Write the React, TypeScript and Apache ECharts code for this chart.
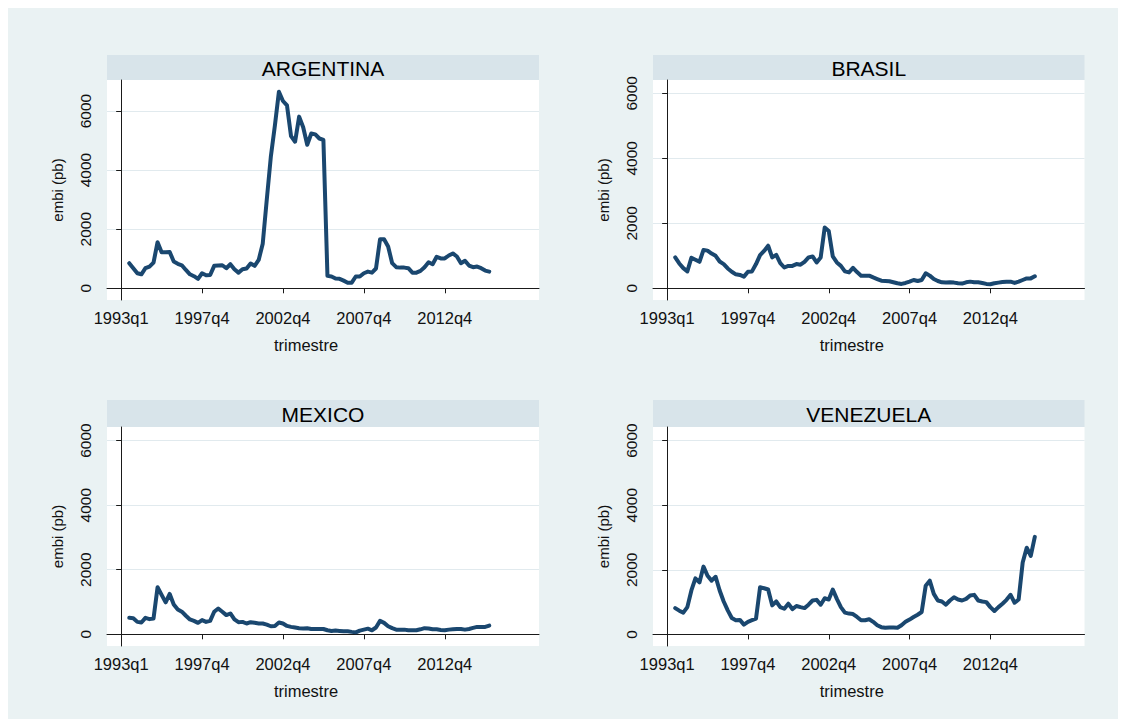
import React, { useEffect, useRef } from "react";
import * as echarts from "echarts";

// Quarter index 0 = first labelled tick; data start at index 2
const START_Q = 2;
const X_TICK_POS = [0, 20, 40, 60, 80];
const X_TICK_LABELS = ["1993q1", "1997q4", "2002q4", "2007q4", "2012q4"];
const Y_TICKS = [0, 2000, 4000, 6000];
const COUNTRIES = ["ARGENTINA", "BRASIL", "MEXICO", "VENEZUELA"];
const X_TITLE = "trimestre";
const Y_TITLE = "embi (pb)";

const ARGENTINA = [
  850, 680, 510, 475, 680, 735, 870, 1560, 1220, 1220,
  1230, 905, 830, 780, 620, 475, 410, 320, 510, 440,
  450, 760, 770, 780, 680, 815, 645, 530, 645, 670,
  840, 760, 960, 1510, 3000, 4450, 5500, 6650, 6340, 6190,
  5150, 4960, 5810, 5450, 4860, 5240, 5210, 5070, 5020, 420,
  400, 330, 320, 260, 190, 190, 400, 400, 510, 565,
  530, 670, 1660, 1660, 1415, 850, 715, 700, 700, 680,
  530, 530, 590, 715, 880, 815, 1065, 1010, 1010, 1110,
  1180, 1075, 850, 930, 770, 715, 735, 680, 600, 565,
];
const BRASIL = [
  950, 765, 620, 520, 940, 880, 815, 1180, 1160, 1070,
  1000, 825, 745, 610, 510, 430, 410, 360, 510, 520,
  745, 1020, 1150, 1310, 950, 1030, 775, 640, 690, 690,
  745, 725, 815, 950, 980, 795, 950, 1870, 1765, 980,
  795, 690, 520, 490, 630, 500, 390, 390, 390, 335,
  285, 235, 225, 215, 185, 155, 135, 165, 205, 255,
  225, 255, 460, 390, 285, 225, 185, 175, 185, 175,
  155, 145, 185, 205, 185, 185, 165, 135, 125, 155,
  175, 195, 205, 205, 165, 205, 255, 305, 305, 370,
];
const MEXICO = [
  510, 500, 385, 365, 510, 470, 490, 1460, 1220, 990,
  1250, 925, 770, 700, 575, 460, 415, 355, 440, 385,
  415, 700, 800, 700, 595, 645, 460, 375, 385, 335,
  375, 355, 335, 335, 300, 250, 260, 365, 335, 260,
  230, 210, 190, 180, 185, 165, 165, 165, 165, 125,
  105, 115, 105, 95, 95, 75, 60, 115, 145, 175,
  125, 210, 415, 355, 250, 190, 145, 145, 145, 125,
  125, 125, 155, 190, 180, 155, 155, 135, 125, 145,
  155, 165, 165, 145, 165, 200, 230, 230, 230, 270,
];
const VENEZUELA = [
  815, 735, 675, 845, 1360, 1735, 1610, 2100, 1815, 1665,
  1785, 1360, 1020, 745, 510, 440, 450, 305, 390, 440,
  490, 1460, 1430, 1390, 900, 1020, 845, 795, 950, 785,
  880, 845, 815, 920, 1050, 1070, 920, 1120, 1080, 1390,
  1100, 845, 675, 645, 630, 540, 440, 440, 470, 390,
  285, 225, 205, 215, 215, 205, 285, 390, 460, 540,
  610, 695, 1510, 1665, 1255, 1050, 1020, 920, 1050, 1150,
  1080, 1050, 1100, 1205, 1225, 1050, 1020, 1000, 845, 725,
  845, 950, 1070, 1225, 980, 1080, 2225, 2685, 2430, 3020,
];
const SERIES = [ARGENTINA, BRASIL, MEXICO, VENEZUELA];

const FONT = "'Liberation Sans', Arial, Helvetica, sans-serif";
const BG = "#EAF2F3";
const STRIP = "#D8E4EA";
const LINE = "#1A476F";
const GRIDLINE = "#E1EAEE";

const LAYOUT = [
  { left: 99, top: 72, width: 432, height: 220, yMin: -396, yMax: 7050, stripTop: 47 },
  { left: 645, top: 72, width: 431.5, height: 220, yMin: -360, yMax: 6410, stripTop: 47 },
  { left: 99, top: 419, width: 432, height: 219, yMin: -362, yMax: 6420, stripTop: 392 },
  { left: 645, top: 419, width: 431.5, height: 219, yMin: -358, yMax: 6420, stripTop: 392 },
];

export default function App() {
  const ref = useRef<HTMLDivElement>(null);

  useEffect(() => {
    if (!ref.current) return;
    const chart = echarts.init(ref.current, null, { renderer: "svg" });

    const grid = LAYOUT.map((p) => ({
      left: p.left,
      top: p.top,
      width: p.width,
      height: p.height,
      show: true,
      backgroundColor: "#FFFFFF",
      borderWidth: 0,
    }));

    const xAxis = LAYOUT.map((_, i) => ({
      type: "value",
      gridIndex: i,
      min: -3.5,
      max: 103.3,
      splitLine: { show: false },
      axisLine: { show: true, lineStyle: { color: "#1a1a1a", width: 1 } },
      axisTick: {
        show: true,
        customValues: X_TICK_POS,
        length: 5,
        lineStyle: { color: "#1a1a1a", width: 1 },
      },
      axisLabel: {
        show: true,
        customValues: X_TICK_POS,
        formatter: (v: number) => {
          const k = X_TICK_POS.indexOf(Math.round(v));
          return k >= 0 ? X_TICK_LABELS[k] : "";
        },
        fontSize: 16.5,
        fontFamily: FONT,
        color: "#111",
        margin: 9,
      },
    }));

    const yAxis = LAYOUT.map((p, i) => ({
      type: "value",
      gridIndex: i,
      min: p.yMin,
      max: p.yMax,
      name: Y_TITLE,
      nameLocation: "middle",
      nameGap: 42,
      nameRotate: 90,
      nameTextStyle: { fontSize: 15, fontFamily: FONT, color: "#111" },
      axisLine: { show: true, lineStyle: { color: "#1a1a1a", width: 1 } },
      axisTick: {
        show: true,
        customValues: Y_TICKS,
        length: 5,
        lineStyle: { color: "#1a1a1a", width: 1 },
      },
      axisLabel: {
        show: true,
        customValues: Y_TICKS,
        rotate: 90,
        formatter: (v: number) => String(Math.round(v)),
        fontSize: 15.5,
        fontFamily: FONT,
        color: "#111",
        margin: 14,
      },
      splitLine: { show: true, lineStyle: { color: GRIDLINE, width: 1.2 } },
    }));

    const series = SERIES.map((vals, i) => ({
      type: "line",
      xAxisIndex: i,
      yAxisIndex: i,
      data: vals.map((v, k) => [START_Q + k, v]),
      showSymbol: false,
      symbol: "none",
      lineStyle: { color: LINE, width: 4, cap: "round", join: "round" },
      silent: true,
    }));

    const graphic: any[] = [];
    LAYOUT.forEach((p, i) => {
      const h = p.top - p.stripTop;
      graphic.push({
        type: "rect",
        shape: { x: p.left, y: p.stripTop, width: p.width, height: h },
        style: { fill: STRIP },
        silent: true,
      });
      graphic.push({
        type: "text",
        x: p.left + p.width / 2,
        y: p.stripTop + h / 2 + 1,
        style: {
          text: COUNTRIES[i],
          fill: "#000",
          fontSize: 21,
          fontFamily: FONT,
          align: "center",
          verticalAlign: "middle",
        },
        silent: true,
      });
      graphic.push({
        type: "text",
        x: p.left + p.width / 2 - 17,
        y: p.top + p.height + 45,
        style: {
          text: X_TITLE,
          fill: "#111",
          fontSize: 16.5,
          fontFamily: FONT,
          align: "center",
          verticalAlign: "middle",
        },
        silent: true,
      });
    });

    chart.setOption({
      animation: false,
      backgroundColor: BG,
      grid,
      xAxis,
      yAxis,
      series,
      graphic,
    } as any);

    return () => chart.dispose();
  }, []);

  return (
    <div
      ref={ref}
      style={{ width: 1110, height: 711, background: BG }}
    />
  );
}
